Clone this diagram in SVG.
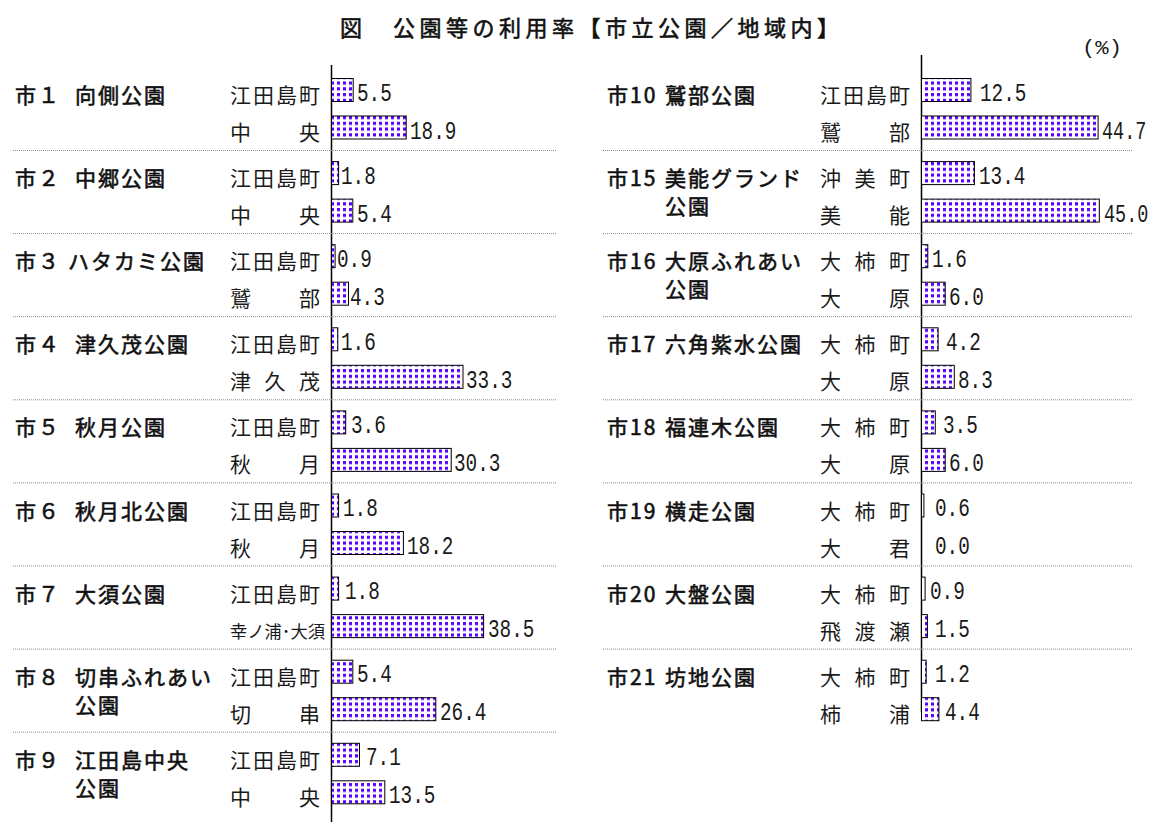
<svg xmlns="http://www.w3.org/2000/svg" width="1156" height="822" viewBox="0 0 1156 822">
<defs>
<pattern id="dots" patternUnits="userSpaceOnUse" x="0" y="0" width="6" height="5.75">
<rect width="6" height="5.75" fill="#ffffff"/>
<rect x="1" y="1" width="3" height="3.2" fill="#5a00ff"/>
</pattern>
</defs>
<style>
.t{font-family:"Noto Sans CJK JP","Noto Sans CJK SC",sans-serif;font-size:21px;fill:#1a1a1a;letter-spacing:2px}
.pk{font-family:"Noto Sans CJK JP","Noto Sans CJK SC",sans-serif;font-size:21px;fill:#111;stroke:#111;stroke-width:0.6px;letter-spacing:2px}
.title{font-family:"Noto Sans CJK JP","Noto Sans CJK SC",sans-serif;font-size:22px;fill:#111;stroke:#111;stroke-width:0.6px;letter-spacing:4.5px}
.v{font-family:"Liberation Mono",monospace;font-size:25px;fill:#1a1a1a}
.pc{font-family:"Liberation Mono",monospace;font-size:21px;fill:#1a1a1a}
.bar{fill:url(#dots);stroke:#000;stroke-width:1}
.sep{stroke:#8c8c8c;stroke-width:1;stroke-dasharray:1 1;fill:none}
.axis{stroke:#000;stroke-width:1.5;fill:none}
</style>
<rect width="1156" height="822" fill="#ffffff"/>
<text class="title" x="340" y="36">図　公園等の利用率【市立公園／地域内】</text>
<text class="pc" x="1082" y="54" textLength="40" lengthAdjust="spacingAndGlyphs">(%)</text>

<g id="connectors">
<line class="axis" x1="331.5" y1="65" x2="331.5" y2="822"/>
<line class="axis" x1="921.5" y1="55" x2="921.5" y2="712"/>
<line class="sep" x1="13" y1="150.5" x2="556" y2="150.5"/>
<line class="sep" x1="13" y1="233.6" x2="556" y2="233.6"/>
<line class="sep" x1="13" y1="316.7" x2="556" y2="316.7"/>
<line class="sep" x1="13" y1="399.8" x2="556" y2="399.8"/>
<line class="sep" x1="13" y1="482.9" x2="556" y2="482.9"/>
<line class="sep" x1="13" y1="566" x2="556" y2="566"/>
<line class="sep" x1="13" y1="649.1" x2="556" y2="649.1"/>
<line class="sep" x1="13" y1="732.2" x2="556" y2="732.2"/>
<line class="sep" x1="603" y1="150.5" x2="1133" y2="150.5"/>
<line class="sep" x1="603" y1="233.6" x2="1133" y2="233.6"/>
<line class="sep" x1="603" y1="316.7" x2="1133" y2="316.7"/>
<line class="sep" x1="603" y1="399.8" x2="1133" y2="399.8"/>
<line class="sep" x1="603" y1="482.9" x2="1133" y2="482.9"/>
<line class="sep" x1="603" y1="566" x2="1133" y2="566"/>
<line class="sep" x1="603" y1="649.1" x2="1133" y2="649.1"/>
</g>

<g id="p1">
<text class="pk" x="15" y="103">市１</text><text class="pk" x="75" y="103">向側公園</text>
<text class="t" x="230" y="103">江田島町</text><rect class="bar" x="331.5" y="78.5" width="21.7" height="23"/><text class="v" x="357" y="100.5" textLength="34.8" lengthAdjust="spacingAndGlyphs">5.5</text>
<text class="t" x="230 299" y="140">中央</text><rect class="bar" x="331.5" y="116" width="74.7" height="23"/><text class="v" x="410" y="138.5" textLength="46.4" lengthAdjust="spacingAndGlyphs">18.9</text>
</g>
<g id="p2">
<text class="pk" x="15" y="186.1">市２</text><text class="pk" x="75" y="186.1">中郷公園</text>
<text class="t" x="230" y="186.1">江田島町</text><rect class="bar" x="331.5" y="161.6" width="7.1" height="23"/><text class="v" x="341" y="183.6" textLength="34.8" lengthAdjust="spacingAndGlyphs">1.8</text>
<text class="t" x="230 299" y="223.1">中央</text><rect class="bar" x="331.5" y="199.1" width="21.3" height="23"/><text class="v" x="357" y="221.6" textLength="34.8" lengthAdjust="spacingAndGlyphs">5.4</text>
</g>
<g id="p3">
<text class="pk" x="15" y="269.2">市３</text><text class="pk" x="68" y="269.2">ハタカミ公園</text>
<text class="t" x="230" y="269.2">江田島町</text><rect class="bar" x="331.5" y="244.7" width="3.6" height="23"/><text class="v" x="337" y="266.7" textLength="34.8" lengthAdjust="spacingAndGlyphs">0.9</text>
<text class="t" x="230 299" y="306.2">鷲部</text><rect class="bar" x="331.5" y="282.2" width="17" height="23"/><text class="v" x="350" y="304.7" textLength="34.8" lengthAdjust="spacingAndGlyphs">4.3</text>
</g>
<g id="p4">
<text class="pk" x="15" y="352.3">市４</text><text class="pk" x="75" y="352.3">津久茂公園</text>
<text class="t" x="230" y="352.3">江田島町</text><rect class="bar" x="331.5" y="327.8" width="6.3" height="23"/><text class="v" x="341" y="349.8" textLength="34.8" lengthAdjust="spacingAndGlyphs">1.6</text>
<text class="t" x="230 264.5 299" y="389.3">津久茂</text><rect class="bar" x="331.5" y="365.3" width="131.5" height="23"/><text class="v" x="466" y="387.8" textLength="46.4" lengthAdjust="spacingAndGlyphs">33.3</text>
</g>
<g id="p5">
<text class="pk" x="15" y="435.4">市５</text><text class="pk" x="75" y="435.4">秋月公園</text>
<text class="t" x="230" y="435.4">江田島町</text><rect class="bar" x="331.5" y="410.9" width="14.2" height="23"/><text class="v" x="351" y="432.9" textLength="34.8" lengthAdjust="spacingAndGlyphs">3.6</text>
<text class="t" x="230 299" y="472.4">秋月</text><rect class="bar" x="331.5" y="448.4" width="119.7" height="23"/><text class="v" x="454" y="470.9" textLength="46.4" lengthAdjust="spacingAndGlyphs">30.3</text>
</g>
<g id="p6">
<text class="pk" x="15" y="518.5">市６</text><text class="pk" x="75" y="518.5">秋月北公園</text>
<text class="t" x="230" y="518.5">江田島町</text><rect class="bar" x="331.5" y="494" width="7.1" height="23"/><text class="v" x="343" y="516" textLength="34.8" lengthAdjust="spacingAndGlyphs">1.8</text>
<text class="t" x="230 299" y="555.5">秋月</text><rect class="bar" x="331.5" y="531.5" width="71.9" height="23"/><text class="v" x="407" y="554" textLength="46.4" lengthAdjust="spacingAndGlyphs">18.2</text>
</g>
<g id="p7">
<text class="pk" x="15" y="601.6">市７</text><text class="pk" x="75" y="601.6">大須公園</text>
<text class="t" x="230" y="601.6">江田島町</text><rect class="bar" x="331.5" y="577.1" width="7.1" height="23"/><text class="v" x="345" y="599.1" textLength="34.8" lengthAdjust="spacingAndGlyphs">1.8</text>
<text class="t" x="230" y="637.6" style="font-size:17px;letter-spacing:0" textLength="95" lengthAdjust="spacingAndGlyphs">幸ノ浦･大須</text><rect class="bar" x="331.5" y="614.6" width="152.1" height="23"/><text class="v" x="488" y="637.1" textLength="46.4" lengthAdjust="spacingAndGlyphs">38.5</text>
</g>
<g id="p8">
<text class="pk" x="15" y="684.7">市８</text><text class="pk" x="75" y="684.7">切串ふれあい</text><text class="pk" x="75" y="712.7">公園</text>
<text class="t" x="230" y="684.7">江田島町</text><rect class="bar" x="331.5" y="660.2" width="21.3" height="23"/><text class="v" x="357" y="682.2" textLength="34.8" lengthAdjust="spacingAndGlyphs">5.4</text>
<text class="t" x="230 299" y="721.7">切串</text><rect class="bar" x="331.5" y="697.7" width="104.3" height="23"/><text class="v" x="440" y="720.2" textLength="46.4" lengthAdjust="spacingAndGlyphs">26.4</text>
</g>
<g id="p9">
<text class="pk" x="15" y="767.8">市９</text><text class="pk" x="75" y="767.8">江田島中央</text><text class="pk" x="75" y="795.8">公園</text>
<text class="t" x="230" y="767.8">江田島町</text><rect class="bar" x="331.5" y="743.3" width="28" height="23"/><text class="v" x="366" y="765.3" textLength="34.8" lengthAdjust="spacingAndGlyphs">7.1</text>
<text class="t" x="230 299" y="804.8">中央</text><rect class="bar" x="331.5" y="780.8" width="53.3" height="23"/><text class="v" x="389" y="803.3" textLength="46.4" lengthAdjust="spacingAndGlyphs">13.5</text>
</g>

<g id="p10">
<text class="pk" x="607" y="103">市10</text><text class="pk" x="665" y="103">鷲部公園</text>
<text class="t" x="820" y="103">江田島町</text><rect class="bar" x="921.5" y="78.5" width="49.4" height="23"/><text class="v" x="980" y="100.5" textLength="46.4" lengthAdjust="spacingAndGlyphs">12.5</text>
<text class="t" x="820 889" y="140">鷲部</text><rect class="bar" x="921.5" y="116" width="176.6" height="23"/><text class="v" transform="translate(1102 138.5) scale(0.74 1)">44.7</text>
</g>
<g id="p15">
<text class="pk" x="607" y="186.1">市15</text><text class="pk" x="665" y="186.1">美能グランド</text><text class="pk" x="665" y="214.1">公園</text>
<text class="t" x="820 854.5 889" y="186.1">沖美町</text><rect class="bar" x="921.5" y="161.6" width="52.9" height="23"/><text class="v" x="979" y="183.6" textLength="46.4" lengthAdjust="spacingAndGlyphs">13.4</text>
<text class="t" x="820 889" y="223.1">美能</text><rect class="bar" x="921.5" y="199.1" width="177.8" height="23"/><text class="v" transform="translate(1104 221.6) scale(0.74 1)">45.0</text>
</g>
<g id="p16">
<text class="pk" x="607" y="269.2">市16</text><text class="pk" x="665" y="269.2">大原ふれあい</text><text class="pk" x="665" y="297.2">公園</text>
<text class="t" x="820 854.5 889" y="269.2">大柿町</text><rect class="bar" x="921.5" y="244.7" width="6.3" height="23"/><text class="v" x="932" y="266.7" textLength="34.8" lengthAdjust="spacingAndGlyphs">1.6</text>
<text class="t" x="820 889" y="306.2">大原</text><rect class="bar" x="921.5" y="282.2" width="23.7" height="23"/><text class="v" x="949" y="304.7" textLength="34.8" lengthAdjust="spacingAndGlyphs">6.0</text>
</g>
<g id="p17">
<text class="pk" x="607" y="352.3">市17</text><text class="pk" x="665" y="352.3">六角紫水公園</text>
<text class="t" x="820 854.5 889" y="352.3">大柿町</text><rect class="bar" x="921.5" y="327.8" width="16.6" height="23"/><text class="v" x="946" y="349.8" textLength="34.8" lengthAdjust="spacingAndGlyphs">4.2</text>
<text class="t" x="820 889" y="389.3">大原</text><rect class="bar" x="921.5" y="365.3" width="32.8" height="23"/><text class="v" x="958" y="387.8" textLength="34.8" lengthAdjust="spacingAndGlyphs">8.3</text>
</g>
<g id="p18">
<text class="pk" x="607" y="435.4">市18</text><text class="pk" x="665" y="435.4">福連木公園</text>
<text class="t" x="820 854.5 889" y="435.4">大柿町</text><rect class="bar" x="921.5" y="410.9" width="13.8" height="23"/><text class="v" x="943" y="432.9" textLength="34.8" lengthAdjust="spacingAndGlyphs">3.5</text>
<text class="t" x="820 889" y="472.4">大原</text><rect class="bar" x="921.5" y="448.4" width="23.7" height="23"/><text class="v" x="949" y="470.9" textLength="34.8" lengthAdjust="spacingAndGlyphs">6.0</text>
</g>
<g id="p19">
<text class="pk" x="607" y="518.5">市19</text><text class="pk" x="665" y="518.5">横走公園</text>
<text class="t" x="820 854.5 889" y="518.5">大柿町</text><rect class="bar" x="921.5" y="494" width="2.4" height="23"/><text class="v" x="935" y="516" textLength="34.8" lengthAdjust="spacingAndGlyphs">0.6</text>
<text class="t" x="820 889" y="555.5">大君</text><text class="v" x="935" y="554" textLength="34.8" lengthAdjust="spacingAndGlyphs">0.0</text>
</g>
<g id="p20">
<text class="pk" x="607" y="601.6">市20</text><text class="pk" x="665" y="601.6">大盤公園</text>
<text class="t" x="820 854.5 889" y="601.6">大柿町</text><rect class="bar" x="921.5" y="577.1" width="3.6" height="23"/><text class="v" x="930" y="599.1" textLength="34.8" lengthAdjust="spacingAndGlyphs">0.9</text>
<text class="t" x="820 854.5 889" y="638.6">飛渡瀬</text><rect class="bar" x="921.5" y="614.6" width="5.9" height="23"/><text class="v" x="935" y="637.1" textLength="34.8" lengthAdjust="spacingAndGlyphs">1.5</text>
</g>
<g id="p21">
<text class="pk" x="607" y="684.7">市21</text><text class="pk" x="665" y="684.7">坊地公園</text>
<text class="t" x="820 854.5 889" y="684.7">大柿町</text><rect class="bar" x="921.5" y="660.2" width="4.7" height="23"/><text class="v" x="935" y="682.2" textLength="34.8" lengthAdjust="spacingAndGlyphs">1.2</text>
<text class="t" x="820 889" y="721.7">柿浦</text><rect class="bar" x="921.5" y="697.7" width="17.4" height="23"/><text class="v" x="945" y="720.2" textLength="34.8" lengthAdjust="spacingAndGlyphs">4.4</text>
</g>
</svg>
